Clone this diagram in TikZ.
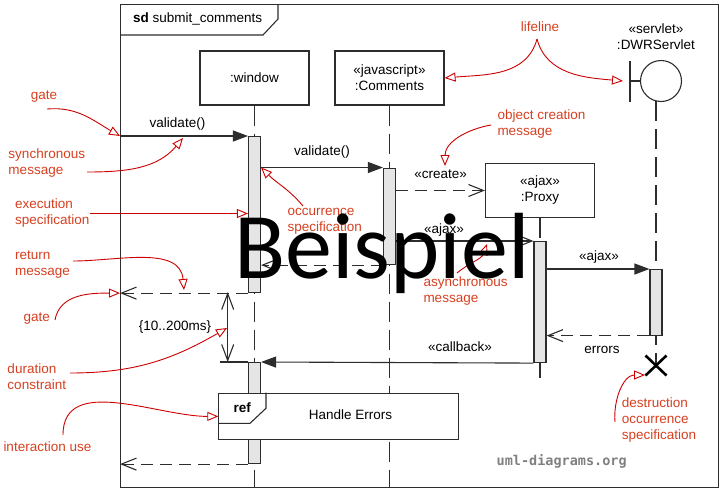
\documentclass[tikz,border=0pt]{standalone}
\usepackage{fontspec}
\setmainfont{Liberation Sans}
\newfontfamily\wmfont{Carlito}
\newfontfamily\sitefont{DejaVu Sans Mono}
\usetikzlibrary{arrows.meta}
\definecolor{notered}{RGB}{204,0,0}
\definecolor{notetext}{RGB}{214,64,32}
\definecolor{linegray}{RGB}{45,45,45}

\begin{document}
\begin{tikzpicture}[x=1pt,y=-1pt,font=\fontsize{13.5}{16}\selectfont,ln/.style={draw=linegray, line width=1.1pt},obj/.style={ln, fill=white, minimum width=109, minimum height=54, align=center, inner sep=2pt},life/.style={ln, dash pattern=on 20pt off 8pt},actbar/.style={ln, fill=gray!20, minimum width=12, inner sep=0, anchor=north},sync/.style={ln, -{Triangle[length=15pt,width=11pt]}},async/.style={ln, -{Straight Barb[length=15pt,width=12pt]}},reply/.style={async, dash pattern=on 12pt off 7pt},lbl/.style={inner sep=0},note/.style={text=notetext, align=left, inner sep=0, anchor=west},pointer/.style={draw=notered, line width=0.9pt, -{Triangle[open,length=11pt,width=9pt]}}]
\useasboundingbox (0,0) rectangle (724,491);
\node[ln, minimum width=598, minimum height=483, inner sep=0, anchor=north west] (frame) at (120,4) {};
\draw[ln] (120,35) -- (263,35) -- (278,19) -- (278,4);\node[lbl, anchor=west] (sdname) at (133,19) {\textbf{sd} submit\_comments};
\node[obj] (window) at (254.5,78) {:window};\node[obj] (comments) at (389.5,78) {«javascript»\\:Comments};\node[obj] (proxy) at (540,190.5) {«ajax»\\:Proxy};
\node[lbl, align=center] (servlet) at (656,37) {«servlet»\\:DWRServlet};\node[ln, circle, minimum size=41, inner sep=0] (dwr) at (661,81) {};
\draw[ln] (630,61) -- (630,102);\draw[ln] (630,81) -- (dwr.west);
\coordinate (destroy) at (656,365.5);
\draw[life] (window.south) -- (window.south |- frame.south);\draw[life] (comments.south) -- (comments.south |- frame.south);\draw[life] (proxy.south) -- (540,382);\draw[life] (656,101) -- (destroy);
\node[actbar, minimum height=156] (winA) at (254.5,136) {};\node[actbar, minimum height=101] (winB) at (254.5,362) {};
\node[actbar, minimum height=96.5] (comA) at (389.5,167.5) {};\node[actbar, minimum height=121] (proA) at (540,241) {};\node[actbar, minimum height=65.5] (srvA) at (656,269) {};
\coordinate (gateA) at (frame.west |- winA.north);\coordinate (gateB) at (frame.west |- winA.south);\coordinate (gateC) at (frame.west |- winB.south);
\draw[sync] (gateA) -- (winA.north west);\node[lbl] (lblValA) at (177.5,124) {validate()};
\draw[sync] (winA.east |- comA.north) -- (comA.north west);\node[lbl] (lblValB) at (322,152) {validate()};
\draw[reply] (comA.east |- proxy.west) -- (proxy.west);\node[lbl] (lblCreate) at (440.7,174.5) {«create»};
\draw[async] (comA.east |- proA.north) -- (proA.north west);\node[lbl] (lblAjaxA) at (444,230) {«ajax»};
\draw[reply] (comA.south west) -- (winA.east |- comA.south);
\draw[reply] (winA.south west) -- (gateB);
\draw[sync] (proA.east |- srvA.north) -- (srvA.north west);\node[lbl] (lblAjaxB) at (599,256.7) {«ajax»};
\draw[reply] (srvA.south west) -- (proA.east |- srvA.south);\node[lbl] (lblErrors) at (602,350) {errors};
\draw[sync] (proA.south west) -- (winB.north east);\node[lbl] (lblCallback) at (460,347) {«callback»};
\draw[reply] (winB.south west) -- (gateC);
\coordinate (dcTop) at (227.7,292);\coordinate (dcBot) at (227.7,362);
\draw[ln] (220,362) -- (winB.north west);\draw[ln, {Straight Barb[length=16pt,width=12pt]}-{Straight Barb[length=16pt,width=12pt]}] (dcTop) -- (dcBot);\node[lbl] (lblDur) at (175,327) {\{10..200ms\}};
\node[ln, fill=white, minimum width=240, minimum height=46.3, inner sep=0, anchor=north west] (refuse) at (218.3,392.7) {};
\draw[ln] (266,392.7) -- (266,408.3) -- (250,423.3) -- (218.3,423.3);\node[lbl] (lblRef) at (242.3,407.7) {\textbf{ref}};\node[lbl] (lblHandle) at (350.5,415) {Handle Errors};
\draw[line width=2.6pt] (645.5,355.5) -- (666.5,375.5) (645.5,375.5) -- (666.5,355.5);
\node[note] (nGateA) at (30.7,97) {gate};\node[note] (nSync) at (8.3,163) {synchronous\\message};\node[note] (nExec) at (15,213.5) {execution\\specification};
\node[note] (nOcc) at (287.3,221) {occurrence\\specification};\node[note, anchor=center] (nLife) at (540,27) {lifeline};\node[note] (nCreate) at (497.3,124) {object creation\\message};
\node[note] (nAsync) at (423.3,291) {asynchronous\\message};\node[note] (nReturn) at (15,264.5) {return\\message};\node[note] (nGateB) at (23.3,319) {gate};
\node[note] (nDur) at (7.3,376.5) {duration\\constraint};\node[note] (nUse) at (3.3,446.7) {interaction use};\node[note] (nDestroy) at (621.7,419.7) {destruction\\occurrence\\specification};
\coordinate (pGateA) at (47,109);\coordinate (pSync) at (87,172);\coordinate (pOcc) at (303,206);\coordinate (pLife) at (537,39);\coordinate (pCreate) at (491,125);\coordinate (pAsync) at (457,273);
\coordinate (pReturn) at (73,261);\coordinate (pGateB) at (55,320);\coordinate (pDur) at (70,373);\coordinate (pUse) at (63,435);\coordinate (pDestroy) at (615,422);
\coordinate (syncPt) at (183,138);\coordinate (createPt) at (445,166);\coordinate (asyncPt) at (487,244);\coordinate (returnPt) at (184,290);\coordinate (durPt) at (227,328);\coordinate (servPt) at (623,81);\coordinate (xPt) at (645,375);
\draw[pointer] (pGateA) to[out=5,in=150] (gateA);\draw[pointer] (pSync) to[out=0,in=-130] (syncPt);\draw[pointer] (nExec.east) -- (nExec.east -| winA.west);
\draw[pointer] (pOcc) to[out=130,in=-45] (winA.east |- comA.north);\draw[pointer] (pLife) to[out=-105,in=5] (comments.east);\draw[pointer] (pLife) to[out=-75,in=175] (servPt);
\draw[pointer] (pCreate) to[out=190,in=90] (createPt);\draw[pointer] (pAsync) to[out=40,in=-110] (asyncPt);\draw[pointer] (pReturn) to[out=0,in=95] (returnPt);
\draw[pointer] (pGateB) to[out=80,in=180] (gateB);\draw[pointer] (pDur) to[out=0,in=-150] (durPt);\draw[pointer] (pUse) to[out=90,in=180] (refuse.west);\draw[pointer] (pDestroy) to[out=95,in=180] (xPt);
\node[lbl, text=gray, font=\sitefont\bfseries\fontsize{13.5}{16}\selectfont] (site) at (561.7,461.7) {uml-diagrams.org};
\node[lbl, anchor=base, font=\wmfont\fontsize{94}{94}\selectfont] (wm) at (382,278) {Beispiel};
\end{tikzpicture}
\end{document}
